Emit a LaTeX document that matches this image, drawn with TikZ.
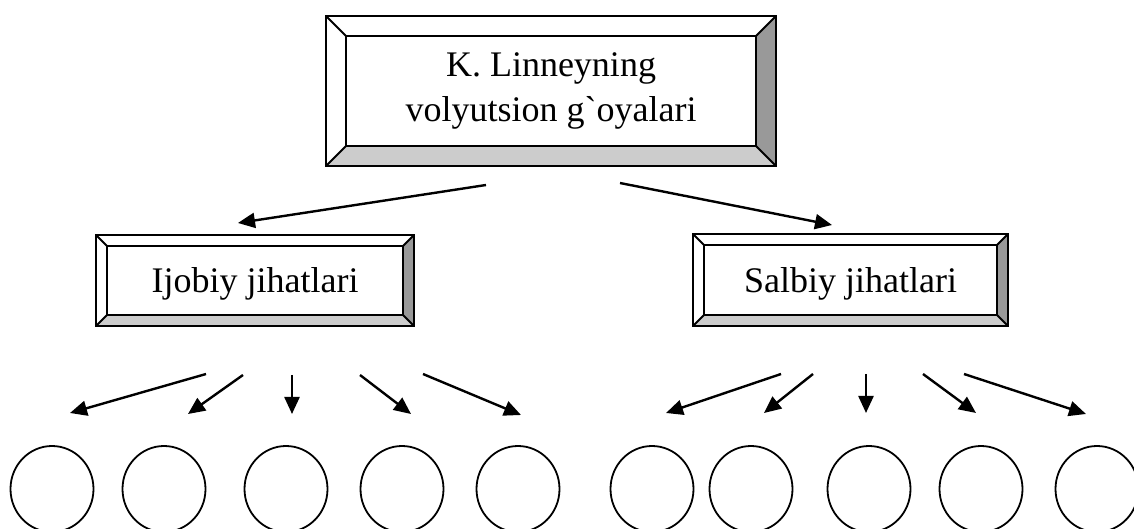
\documentclass[tikz,border=0pt]{standalone}
\usepackage{fontspec}
\setmainfont{Liberation Serif}[Ligatures=TeXOff]
\usetikzlibrary{arrows.meta,shapes.geometric}
\definecolor{bevdark}{HTML}{999999}
\definecolor{bevlight}{HTML}{CCCCCC}
\newcommand\bevelframe[2]{%
  \fill[bevlight] (#1.south west) -- (#1.south east) -- ([xshift=-#2bp,yshift=#2bp]#1.south east) -- ([xshift=#2bp,yshift=#2bp]#1.south west) -- cycle;
  \fill[bevdark] (#1.south east) -- (#1.north east) -- ([xshift=-#2bp,yshift=-#2bp]#1.north east) -- ([xshift=-#2bp,yshift=#2bp]#1.south east) -- cycle;
  \draw[bevline] (#1.north west) rectangle (#1.south east);
  \draw[bevline] ([xshift=#2bp,yshift=-#2bp]#1.north west) rectangle ([xshift=-#2bp,yshift=#2bp]#1.south east);
  \draw[bevline] (#1.north west) -- ([xshift=#2bp,yshift=-#2bp]#1.north west);
  \draw[bevline] (#1.north east) -- ([xshift=-#2bp,yshift=-#2bp]#1.north east);
  \draw[bevline] (#1.south west) -- ([xshift=#2bp,yshift=#2bp]#1.south west);
  \draw[bevline] (#1.south east) -- ([xshift=-#2bp,yshift=#2bp]#1.south east);
}
\tikzset{
  box/.style={fill=white, inner sep=0pt, align=center, font=\fontsize{36bp}{45bp}\selectfont},
  bevline/.style={line width=1.8bp, line join=miter},
  conn/.style={-{Triangle[length=17bp,width=15bp]}, line width=2.4bp},
  leaf/.style={ellipse, draw, line width=1.8bp, minimum width=83bp, minimum height=86bp, inner sep=0pt}
}
\begin{document}
\begin{tikzpicture}[x=1bp,y=-1bp]
\useasboundingbox (0,0) rectangle (1134,529);
% boxes
\node[box, minimum width=450bp, minimum height=150bp] (top) at (551,91) {K. Linneyning\\volyutsion g`oyalari};
\bevelframe{top}{20}
\node[box, minimum width=318bp, minimum height=91bp, text height=25bp, text depth=0bp] (pos) at (255,280.5) {Ijobiy jihatlari};
\bevelframe{pos}{11}
\node[box, minimum width=315bp, minimum height=92bp, text height=25bp, text depth=0bp] (neg) at (850.5,280) {Salbiy jihatlari};
\bevelframe{neg}{11}
% top arrows
\coordinate (tl1) at (486,185); \coordinate (tl2) at (238,223);
\coordinate (tr1) at (620,183); \coordinate (tr2) at (832,225);
\draw[conn] (tl1) -- (tl2);
\draw[conn] (tr1) -- (tr2);
% circles
\foreach \i/\x in {1/52,2/164,3/286,4/402,5/518,6/652,7/751,8/869,9/981,10/1097}
  \node[leaf] (c\i) at (\x,489) {};
% bottom arrows
\foreach \i/\xa/\ya/\xb/\yb in {1/206/374/70/413, 2/243/375/188/414, 3/292/375/292/414, 4/360/375/411/414, 5/423/374/521/415,
  6/781/374/666/413, 7/813/374/764/413, 8/866/374/866/413, 9/923/374/976/413, 10/964/374/1086/414}{
  \coordinate (s\i) at (\xa,\ya);
  \coordinate (e\i) at (\xb,\yb);
  \draw[conn] (s\i) -- (e\i);
}
\end{tikzpicture}
\end{document}
